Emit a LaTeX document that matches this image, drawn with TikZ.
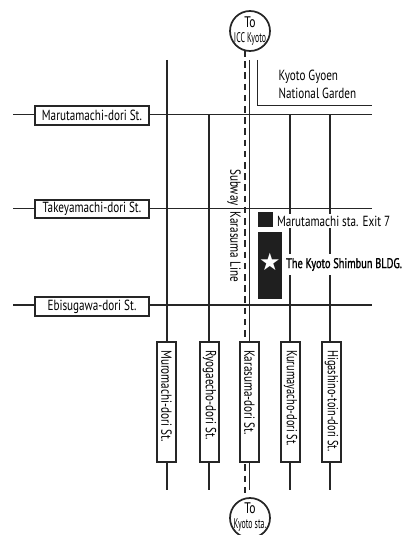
\documentclass[tikz,border=0pt]{standalone}
\usepackage{fontspec}
\setmainfont[FakeStretch=0.76]{PT Sans}
\newfontfamily\boldf[FakeStretch=0.74,FakeBold=1.2]{PT Sans}
\newfontfamily\smallf[FakeStretch=0.56]{PT Sans}
\newfontfamily\longf[FakeStretch=0.71]{PT Sans}
\tikzset{
  x=0.75pt,y=-0.75pt,
  road/.style={line width=1.3pt,black!85},
  hbox/.style={draw=black!85,line width=1.3pt,fill=white,minimum width=85.5pt,minimum height=14pt,inner sep=0pt,font=\fontsize{11}{11}\selectfont},
  vbox/.style={draw=black!85,line width=1.3pt,fill=white,minimum width=90pt,minimum height=14pt,inner sep=0pt,rotate=-90},
  vtext/.style={inner sep=0pt,rotate=-90,anchor=west,font=\fontsize{11}{11}\selectfont},
  dest/.style={draw=black!85,line width=1.3pt,fill=white,circle,minimum size=30pt,inner sep=0pt},
  lab/.style={inner sep=1pt,font=\fontsize{11}{11}\selectfont},
  toa/.style={inner sep=0pt,font=\fontsize{11.5}{11.5}\selectfont},
  tob/.style={inner sep=0pt,font=\smallf\fontsize{10.5}{10.5}\selectfont},
}
\begin{document}
\begin{tikzpicture}
\path[use as bounding box] (0,0) rectangle (403,535);
\clip (0,0) rectangle (403,535);
\foreach \n/\x/\ya in {muro/167/60,ryo/209/114,kar/249.5/60,kuru/290/114,higa/330/114}{
  \coordinate (\n T) at (\x,\ya);
  \coordinate (\n B) at (\x,490);
  \draw[road] (\n T) -- (\n B);
}
\foreach \n/\y in {maru/114.5,take/208.5,ebi/305}{
  \coordinate (\n L) at (13,\y);
  \coordinate (\n R) at (372,\y);
  \draw[road] (\n L) -- (\n R);
}
\coordinate (gardenA) at (257.5,60);
\coordinate (gardenB) at (257.5,105.5);
\coordinate (gardenC) at (372,105.5);
\draw[road] (gardenA) -- (gardenB) -- (gardenC);
\coordinate (dashT) at (245,50);
\coordinate (dashB) at (245,499);
\draw[road,line width=1.2pt,dash pattern=on 5pt off 3.4pt] (dashT) -- (dashB);
\node[dest] (icc) at (250,31) {};
\node[dest] (kst) at (250,518) {};
\node[toa] (icct) at (250,22.5) {To};
\node[tob] (iccb) at (250,38.5) {ICC Kyoto};
\node[toa] (kstt) at (250,508.5) {To};
\node[tob] (kstb) at (250,525) {Kyoto sta.};
\node[hbox] (hmaru) at (92,115.5) {Marutamachi-dori St.};
\node[hbox] (htake) at (92,209) {Takeyamachi-dori St.};
\node[hbox] (hebi) at (92,306.5) {Ebisugawa-dori St.};
\node[vbox] (vmuro) at (166.5,402) {};
\node[vbox] (vryo) at (209.5,402) {};
\node[vbox] (vkar) at (249.5,402) {};
\node[vbox] (vkuru) at (290.5,402) {};
\node[vbox] (vhiga) at (331.5,402) {};
\node[vtext] (tmuro) at (166.5,350) {Muromachi-dori St.};
\node[vtext] (tryo) at (209.5,350) {Ryogaecho-dori St.};
\node[vtext] (tkar) at (249.5,350) {Karasuma-dori St.};
\node[vtext,font=\longf\fontsize{11}{11}\selectfont] (tkuru) at (290.5,350) {Kurumayacho-dori St.};
\node[vtext,font=\longf\fontsize{11}{11}\selectfont] (thiga) at (331.5,350) {Higashino-toin-dori St.};
\node[lab,anchor=west] (g1) at (277,77) {Kyoto Gyoen};
\node[lab,anchor=west] (g2) at (277,93) {National Garden};
\node[lab,rotate=-90] (sub) at (234,225.5) {Subway\hspace{0.4em}Karasuma Line};
\node[fill=black!88,minimum width=11pt,minimum height=11pt,inner sep=0pt] (exit) at (265.5,219.5) {};
\node[fill=black!88,minimum width=18pt,minimum height=50pt,inner sep=0pt] (bldg) at (270,265.5) {};
\node[white,font=\fontsize{18}{18}\selectfont] (star) at (270,262) {\fontspec{DejaVu Sans}★};
\node[lab,anchor=west,fill=white,inner sep=1pt] (exitt) at (275.5,221) {Marutamachi sta. Exit 7};
\node[lab,anchor=west,fill=white,minimum height=16pt,font=\boldf\fontsize{10.5}{11}\selectfont] (bldgt) at (284.5,264.5) {The Kyoto Shimbun BLDG.};
\end{tikzpicture}
\end{document}
